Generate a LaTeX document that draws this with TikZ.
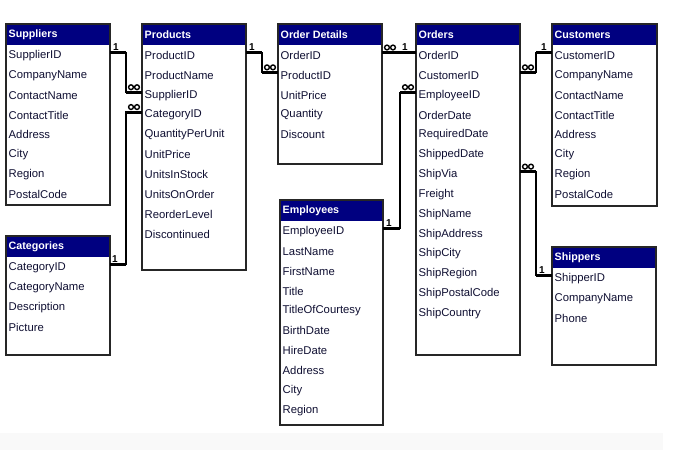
\documentclass[tikz,border=0pt]{standalone}
\usepackage{fontspec}
\setmainfont{Liberation Sans}
\definecolor{hdrblue}{RGB}{0,0,128}
\definecolor{fieldtxt}{RGB}{15,15,50}
\definecolor{bgband}{RGB}{249,249,249}
\tikzset{
  tblbox/.style={draw=black!85, line width=1.1pt, fill=white, anchor=north west, inner sep=0pt, outer sep=0pt},
  hdrtxt/.style={text=white, font=\bfseries\fontsize{10.7}{12}\selectfont, anchor=west, inner sep=0pt},
  fieldrow/.style={text=fieldtxt, font=\fontsize{11.3}{13}\selectfont, anchor=west, inner sep=0pt},
  relline/.style={line width=1.3pt, black},
  relstub/.style={line width=3pt, black},
  onelbl/.style={font=\bfseries\fontsize{10}{11}\selectfont, inner sep=0pt},
  infring/.style={line width=1.4pt, black},
}
\newcommand{\dbtable}[7]{%
  \node[tblbox, minimum width=#4pt, minimum height=#5pt] (#1) at (#2,#3) {};
  \fill[hdrblue] ([shift={(0.5pt,-0.5pt)}]#1.north west) rectangle ([shift={(-0.5pt,-21pt)}]#1.north east);
  \node[hdrtxt] (#1-h) at ([shift={(2.5pt,-11pt)}]#1.north west) {#6};
  \foreach \fld [count=\i] in {#7} {
    \pgfmathsetmacro{\dy}{31.5+(\i-1)*19.85}
    \node[fieldrow] (#1-\i) at ([shift={(2.5pt,-\dy pt)}]#1.north west) {\fld};
  }
  \draw[draw=black!85, line width=1.1pt] (#1.north west) rectangle (#1.south east);
}
\newcommand{\infsym}[1]{%
  \draw[infring] ([shift={(-3pt,0pt)}]#1) circle (2.4pt) ([shift={(3pt,0pt)}]#1) circle (2.4pt);
}
\begin{document}
\begin{tikzpicture}[x=1pt, y=-1pt]
\useasboundingbox (0,0) rectangle (675,450);
\fill[white] (0,0) rectangle (675,450);
\fill[bgband] (0,433) rectangle (663,450);

\dbtable{sup}{6}{24}{104}{181}{Suppliers}{SupplierID,CompanyName,ContactName,ContactTitle,Address,City,Region,PostalCode}
\dbtable{cat}{6}{236}{104}{119}{Categories}{CategoryID,CategoryName,Description,Picture}
\dbtable{prod}{142}{24}{104}{246}{Products}{ProductID,ProductName,SupplierID,CategoryID,QuantityPerUnit,UnitPrice,UnitsInStock,UnitsOnOrder,ReorderLevel,Discontinued}
\dbtable{od}{278}{24}{104}{140}{Order Details}{OrderID,ProductID,UnitPrice,Quantity,Discount}
\dbtable{emp}{280}{200}{103}{225}{Employees}{EmployeeID,LastName,FirstName,Title,TitleOfCourtesy,BirthDate,HireDate,Address,City,Region}
\dbtable{ord}{416}{24}{104}{331}{Orders}{OrderID,CustomerID,EmployeeID,OrderDate,RequiredDate,ShippedDate,ShipVia,Freight,ShipName,ShipAddress,ShipCity,ShipRegion,ShipPostalCode,ShipCountry}
\dbtable{cus}{552}{24}{105}{182}{Customers}{CustomerID,CompanyName,ContactName,ContactTitle,Address,City,Region,PostalCode}
\dbtable{shp}{552}{247}{104}{118}{Shippers}{ShipperID,CompanyName,Phone}

% Suppliers -> Products
\coordinate (r1a) at ([yshift=3pt]sup.east |- sup-1);
\coordinate (r1b) at ([yshift=3pt]prod.west |- prod-3);
\draw[relline] (r1a) -- ++(16,0) |- (r1b);
\draw[relstub] (r1a) -- ++(16,0);
\draw[relstub] (r1b) -- ++(-16,0);
\node[onelbl, anchor=south west] at ([shift={(3pt,2pt)}]r1a) {1};
\coordinate (i1) at ([shift={(-8pt,5pt)}]r1b);
\infsym{i1}

% Categories -> Products
\coordinate (r2a) at ([yshift=3pt]cat.east |- cat-1);
\coordinate (r2b) at ([yshift=3pt]prod.west |- prod-4);
\draw[relline] (r2a) -- ++(16,0) |- (r2b);
\draw[relstub] (r2a) -- ++(16,0);
\draw[relstub] (r2b) -- ++(-16,0);
\node[onelbl, anchor=south west] at ([shift={(2pt,2pt)}]r2a) {1};
\coordinate (i2) at ([shift={(-8pt,5pt)}]r2b);
\infsym{i2}

% Products -> Order Details
\coordinate (r3a) at ([yshift=3pt]prod.east |- prod-1);
\coordinate (r3b) at ([yshift=3pt]od.west |- od-2);
\draw[relline] (r3a) -- ++(16,0) |- (r3b);
\draw[relstub] (r3a) -- ++(16,0);
\draw[relstub] (r3b) -- ++(-16,0);
\node[onelbl, anchor=south west] at ([shift={(3pt,2pt)}]r3a) {1};
\coordinate (i3) at ([shift={(-8pt,5pt)}]r3b);
\infsym{i3}

% Order Details -> Orders
\coordinate (r4a) at ([yshift=3pt]od.east |- od-1);
\coordinate (r4b) at ([yshift=3pt]ord.west |- ord-1);
\draw[relstub] (r4a) -- (r4b);
\node[onelbl, anchor=south east] at ([shift={(-8pt,2pt)}]r4b) {1};
\coordinate (i4) at ([shift={(8pt,5pt)}]r4a);
\infsym{i4}

% Employees -> Orders
\coordinate (r5a) at ([yshift=3pt]emp.east |- emp-1);
\coordinate (r5b) at ([yshift=3pt]ord.west |- ord-3);
\draw[relline] (r5a) -- ++(17,0) |- (r5b);
\draw[relstub] (r5a) -- ++(17,0);
\draw[relstub] (r5b) -- ++(-16,0);
\node[onelbl, anchor=south west] at ([shift={(3pt,2pt)}]r5a) {1};
\coordinate (i5) at ([shift={(-8pt,5pt)}]r5b);
\infsym{i5}

% Orders -> Customers
\coordinate (r6a) at ([yshift=3pt]ord.east |- ord-2);
\coordinate (r6b) at ([yshift=3pt]cus.west |- cus-1);
\draw[relline] (r6a) -- ++(16,0) |- (r6b);
\draw[relstub] (r6a) -- ++(16,0);
\draw[relstub] (r6b) -- ++(-16,0);
\node[onelbl, anchor=south east] at ([shift={(-5pt,2pt)}]r6b) {1};
\coordinate (i6) at ([shift={(8pt,5pt)}]r6a);
\infsym{i6}

% Orders -> Shippers
\coordinate (r7a) at ([yshift=3pt]ord.east |- ord-7);
\coordinate (r7b) at ([yshift=3pt]shp.west |- shp-1);
\draw[relline] (r7a) -- ++(16,0) |- (r7b);
\draw[relstub] (r7a) -- ++(16,0);
\draw[relstub] (r7b) -- ++(-16,0);
\node[onelbl, anchor=south east] at ([shift={(-7pt,2pt)}]r7b) {1};
\coordinate (i7) at ([shift={(8pt,5pt)}]r7a);
\infsym{i7}
\end{tikzpicture}
\end{document}
